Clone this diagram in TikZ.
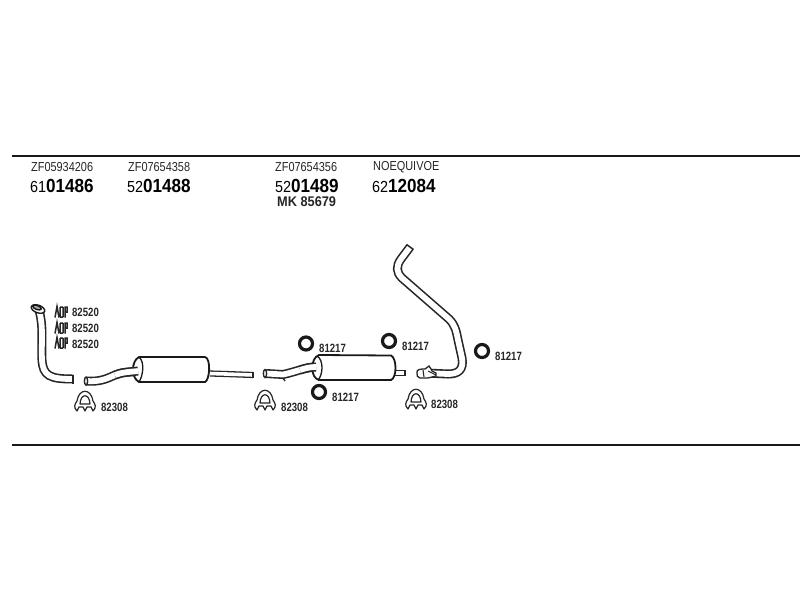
\documentclass[tikz,border=0pt]{standalone}
\usepackage{fontspec}
\setmainfont{Liberation Sans}
\tikzset{
  rule/.style={line width=2pt,draw=black!90},
  partcode/.style={anchor=west,inner sep=0pt,font=\fontsize{13}{13}\selectfont,xscale=.84,transform shape,text=black!85},
  ordercode/.style={anchor=west,inner sep=0pt,font=\fontsize{19}{19}\selectfont,xscale=.9,transform shape,text=black},
  refcode/.style={anchor=west,inner sep=0pt,font=\bfseries\fontsize{12}{12}\selectfont,xscale=.8,transform shape,text=black!85},
  pipe/.style={draw=black!85,line width=1.6pt,double=white,double distance=5.8pt,line cap=butt},
  pipethin/.style={draw=black!85,line width=1.3pt,double=white,double distance=3.6pt},
  shell/.style={draw=black!90,line width=1.8pt,fill=white},
  ringpart/.style={circle,draw=black!90,line width=3.2pt,fill=white,minimum size=13pt,inner sep=0pt},
  clamp/.style={draw=black!85,line width=1.2pt,fill=white,line join=round},
  tiny/.style={draw=black!85,line width=1.5pt}
}
\newcommand{\clampat}[2]{%
  \begin{scope}[shift={(#1,#2)}]
    \draw[clamp] (-8,10) .. controls (-12,6) and (-10,3) .. (-8,0)
      .. controls (-6,-13) and (6,-13) .. (8,0)
      .. controls (10,3) and (12,6) .. (8,10) -- (6,6) -- (2,6) -- (0,10) -- (-2,6) -- (-6,6) -- cycle;
    \draw[clamp] (-5,3) .. controls (-4.5,-8) and (4.5,-8) .. (5,3) -- cycle;
  \end{scope}}
\newcommand{\tinyat}[2]{%
  \begin{scope}[shift={(#1,#2)}]
    \draw[tiny] (0,5.5) -- (2,-5.5) -- (4,5.5) (5,-5) -- (5,5) (8,-5) -- (8,5) (5,-5) -- (8,-5) (5,5) -- (8,5) (10,5.5) -- (10,-5) -- (12,-5) -- (12,0) -- (10,0);
  \end{scope}}
\begin{document}
\begin{tikzpicture}[x=1pt,y=-1pt]
\useasboundingbox (0,0) rectangle (800,600);
\fill[white] (0,0) rectangle (800,600);
\draw[rule] (12,155.5) -- (800,155.5);
\draw[rule] (12,444.5) -- (800,444.5);
% header texts
\node[partcode] (p1) at (31,167) {ZF05934206};
\node[ordercode] (o1) at (30,185.5) {{\fontsize{16}{16}\selectfont 61}\textbf{01486}};
\node[partcode] (p2) at (128,167) {ZF07654358};
\node[ordercode] (o2) at (127,185.5) {{\fontsize{16}{16}\selectfont 52}\textbf{01488}};
\node[partcode] (p3) at (275,167) {ZF07654356};
\node[ordercode] (o3) at (275,185.5) {{\fontsize{16}{16}\selectfont 52}\textbf{01489}};
\node[refcode,font=\bfseries\fontsize{14}{14}\selectfont,xscale=1.14] (mk) at (277,201.5) {MK 85679};
\node[partcode] (p4) at (373,167) {NOEQUIVOE};
\node[ordercode] (o4) at (372,185.5) {{\fontsize{16}{16}\selectfont 62}\textbf{12084}};
% front pipe
\draw[pipe] (39,310) .. controls (44,328) and (41,345) .. (42,360)
  .. controls (43,376) and (50,379) .. (73,379);
\draw[black!85,line width=1.4pt] (73,374.5) -- (73,383.5);
\draw[black!90,line width=1.4pt,fill=white,rotate around={-20:(38,309)}] (38,309) ellipse (7pt and 3.8pt);
\draw[black!90,line width=1.4pt,fill=black!35,rotate around={-20:(37,307.5)}] (37,307.5) ellipse (4.5pt and 2pt);
\tinyat{55}{312}\tinyat{55}{328}\tinyat{55}{343}
\node[refcode] (a1) at (72,312) {82520};
\node[refcode] (a2) at (72,328) {82520};
\node[refcode] (a3) at (72,344) {82520};
% first silencer
\draw[pipethin] (210,373.5) -- (226,374) -- (253,375);
\draw[black!85,line width=1.3pt] (253,372) -- (253,378);
\draw[pipe] (86,381) .. controls (100,382) and (106,379) .. (115,375) .. controls (122,372) and (130,372) .. (139,371.5);
\draw[shell] (139,357) -- (205,357) .. controls (211,358) and (210,380) .. (205,382) -- (139,382) .. controls (131,378) and (131,361) .. (139,357) -- cycle;
\draw[black!90,line width=1.3pt] (139,357) .. controls (145,362) and (143,376) .. (139,382);
\draw[pipe] (115,375) .. controls (122,372) and (130,372) .. (138,371);
\draw[black!85,line width=1.4pt,fill=white] (86,381) ellipse (1.6pt and 4pt);
\clampat{85}{401}
\node[refcode] (c1) at (101,407) {82308};
% second silencer
\draw[pipe] (266,373.5) -- (283,374.5) .. controls (295,372) and (303,368) .. (315,367);
\draw[black!85,line width=1.4pt,fill=white] (265,373.5) ellipse (1.6pt and 4pt);
\draw[black!85,line width=1.3pt] (283,378) -- (285,381);
\draw[pipethin] (395,373) -- (404,373);
\draw[black!85,line width=1.3pt] (405,370) -- (405,376);
\draw[shell] (319,355) -- (391,355.5) .. controls (397,358) and (397,378) .. (391,380) -- (319,380) .. controls (310,378) and (310,358) .. (319,355) -- cycle;
\draw[black!90,line width=1.3pt] (317,356) .. controls (324,360) and (323,375) .. (318,380);
\draw[pipe] (300,370) .. controls (306,368) and (310,367) .. (316,367);
\node[ringpart] (r1) at (306,343.5) {};
\node[ringpart] (r2) at (389,341) {};
\node[ringpart] (r3) at (319,392) {};
\node[refcode] (l1) at (319,348) {81217};
\node[refcode] (l2) at (402,346) {81217};
\node[refcode] (l3) at (332,397) {81217};
\clampat{265}{400}
\node[refcode] (c2) at (281,407) {82308};
% tail pipe
\draw[pipe] (410,247) -- (401,259) .. controls (396,266) and (396,272) .. (402,278)
  -- (449,319) .. controls (455,325) and (456,330) .. (458,340)
  -- (462,358) .. controls (464,370) and (458,374) .. (448,374) -- (426,373);
\draw[black!85,line width=1.5pt] (406.5,244.5) -- (413.5,249.5);
\draw[black!85,line width=1.3pt,fill=white] (417,373) .. controls (416,369) and (421,369) .. (425,369) -- (429,366) -- (431,369) -- (432,371) -- (436,373) -- (436,376) -- (428,378) -- (420,378) .. controls (417,378) and (417,375) .. (417,373) -- cycle;
\draw[black!85,line width=1.1pt] (423,370) -- (424,377) (428,371) -- (436,375);
\node[ringpart] (r4) at (482,351) {};
\node[refcode] (l4) at (495,356) {81217};
\clampat{416}{399}
\node[refcode] (c3) at (431,404) {82308};
\end{tikzpicture}
\end{document}
